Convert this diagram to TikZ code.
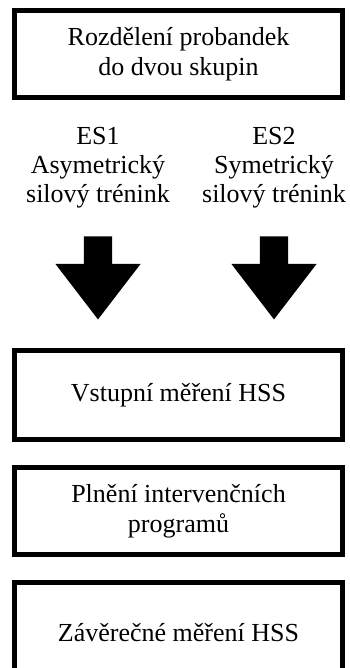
\documentclass[tikz,border=0pt]{standalone}
\usepackage{fontspec}
\setmainfont{Liberation Serif}
\usetikzlibrary{positioning,shapes.arrows}

\begin{document}
\begin{tikzpicture}[x=1pt, y=-1pt, every node/.style={font=\fontsize{26}{30}\selectfont},
  box/.style={draw, line width=5pt, align=center, minimum width=328pt, inner sep=0pt},
  group/.style={align=center, inner sep=0pt, font=\fontsize{26}{29}\selectfont},
  blockarrow/.style={single arrow, fill=black, inner sep=14pt, minimum height=83pt, minimum width=85pt,
    single arrow head extend=28.5pt, single arrow tip angle=75, shape border rotate=270}]
\useasboundingbox (0,0) rectangle (350,668);
\clip (0,0) rectangle (350,668);
\node[box, minimum height=87pt] (split) at (178.5,54) {Rozdělení probandek\\do dvou skupin};
\node[group, anchor=north] (es1) at (98,127) {ES1\\Asymetrický\\silový trénink};
\node[group, anchor=north] (es2) at (274,127) {ES2\\Symetrický\\silový trénink};
\node[blockarrow, below=28pt of es1, anchor=tail] (arr1) {};
\node[blockarrow, below=28pt of es2, anchor=tail] (arr2) {};
\node[box, minimum height=89pt] (entry) at (178.5,395) {Vstupní měření HSS};
\node[box, minimum height=87pt, below=23pt of entry] (program) {Plnění intervenčních\\programů};
\node[box, minimum height=101pt, below=23pt of program] (final) {Závěrečné měření HSS};
\end{tikzpicture}
\end{document}
